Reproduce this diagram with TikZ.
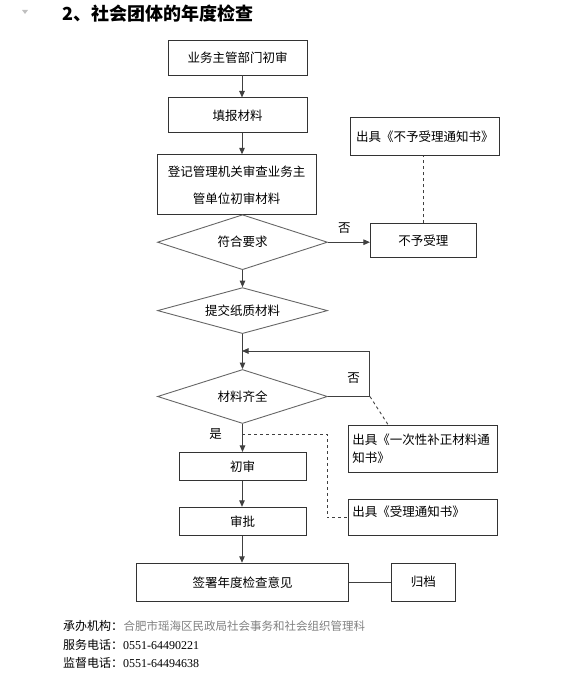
\documentclass[tikz,border=0pt]{standalone}
\usepackage{fontspec}
\usepackage{tikz}
\usetikzlibrary{positioning,arrows.meta,shapes.geometric}
\newfontfamily\cjk{Noto Sans CJK SC}
\newfontfamily\numfont{Liberation Serif}
\newcommand{\boxfont}{\cjk\fontsize{12.5pt}{15pt}\selectfont}

\begin{document}
\begin{tikzpicture}[
  x=1pt, y=-1pt,
  node distance=20pt and 42pt,
  stepbox/.style={rectangle, draw=black!80, line width=0.9pt,
              minimum width=139pt, minimum height=35pt,
              inner sep=2pt, align=center, font=\boxfont},
  decision/.style={diamond, draw=black!60, line width=0.9pt, aspect=3,
              inner sep=0pt, minimum width=170pt, minimum height=54pt,
              align=center, font=\boxfont},
  notebox/.style={rectangle, draw=black!80, line width=0.9pt,
              minimum width=149pt, inner sep=4pt, font=\boxfont},
  arr/.style={-{Triangle[length=6.5pt, width=5.5pt]}, line width=1pt, black!75},
  link/.style={dashed, line width=0.9pt, black!75},
  label/.style={inner sep=1pt, font=\boxfont},
  footer/.style={anchor=west, inner sep=0pt, font=\cjk\fontsize{12pt}{14pt}\selectfont},
]
\useasboundingbox (0,0) rectangle (581,679);

% Title
\fill[black!25] (22,10) -- (28,10) -- (25,14) -- cycle;
\node[anchor=west, inner sep=0pt, font=\cjk\bfseries\fontsize{18pt}{20pt}\selectfont] (title) at (62,14) {2、社会团体的年度检查};

% Main column
\coordinate (axis) at (242,0);
\node[stepbox] (first) at (237.5,57.5) {业务主管部门初审};
\node[stepbox, below=22pt of first] (fill) {填报材料};
\node[stepbox, below=21pt of fill, minimum width=159pt, minimum height=60pt,
      font=\cjk\fontsize{12.5pt}{27pt}\selectfont, xshift=-1pt] (review)
      {登记管理机关审查业务主\\管单位初审材料};
\node[decision, below=0pt of review, xshift=6pt, yshift=1pt, minimum height=55pt] (check) {符合要求};
\node[decision, below=17pt of check, minimum height=46pt] (submit) {提交纸质材料};
\node[decision, below=35pt of submit] (complete) {材料齐全};
\node[stepbox, below=28pt of complete, minimum width=127pt, minimum height=28pt] (audit) {初审};
\node[stepbox, below=26pt of audit, minimum width=127pt, minimum height=28pt] (approve) {审批};
\node[stepbox, below=27pt of approve, minimum width=212pt, minimum height=38pt] (sign) {签署年度检查意见};
\node[stepbox, right=42pt of sign, minimum width=64pt, minimum height=38pt] (archive) {归档};

% Side branch
\node[stepbox, right=42pt of check, minimum width=106pt, minimum height=34pt, yshift=1.5pt] (reject) {不予受理};
\node[notebox, above=67pt of reject, minimum height=38pt, xshift=1.5pt] (note1) {出具《不予受理通知书》};
\node[notebox, below right=28pt and 20pt of complete.east, minimum height=47pt,
      text width=141pt, align=left, font=\cjk\fontsize{12.5pt}{18pt}\selectfont] (note2)
      {出具《一次性补正材料通\\知书》};
\node[notebox, below=27pt of note2, minimum height=36pt, text width=141pt,
      align=left, text height=10pt, text depth=13pt] (note3) {出具《受理通知书》};

% Helper points
\coordinate (turn) at (reject.west |- complete.east);
\path (242,351) coordinate (merge);
\path (242,434) coordinate (fork);
\coordinate (bend) at ([xshift=85pt]fork);

% Arrows
\draw[arr] (first.south -| axis) -- (fill.north -| axis);
\draw[arr] (fill.south -| axis) -- (review.north -| axis);
\draw[arr] (check.south) -- (submit.north);
\draw[arr] (submit.south) -- (complete.north);
\draw[arr] (complete.south) -- (audit.north);
\draw[arr] (audit.south -| axis) -- (approve.north -| axis);
\draw[arr] (approve.south -| axis) -- (sign.north -| axis);
\draw[arr] (check.east) -- (check.east -| reject.west);
\draw[arr] (complete.east) -- (turn) |- (merge);
\draw[line width=1pt, black!75] (sign.east) -- (archive.west);

% Dashed links
\draw[link] (reject.north) -- (reject.north |- note1.south);
\draw[link] (turn) -- ([xshift=40pt]note2.north west);
\draw[link] (fork) -- (bend) |- (note3.west);

% Branch labels
\node[label, above right=8pt and 9pt of check.east] {否};
\node[label, above left=12pt and 9pt of turn] {否};
\node[label, left=19pt of fork] {是};

% Footer
\node[footer] (org) at (63,626) {承办机构：};
\node[footer, right=0pt of org, text=black!50, font=\cjk\fontsize{11.5pt}{14pt}\selectfont] (orgname) {合肥市瑶海区民政局社会事务和社会组织管理科};
\node[footer] (service) at (63,645) {服务电话：{\numfont 0551-64490221}};
\node[footer] (monitor) at (63,663) {监督电话：{\numfont 0551-64494638}};

\end{tikzpicture}
\end{document}
